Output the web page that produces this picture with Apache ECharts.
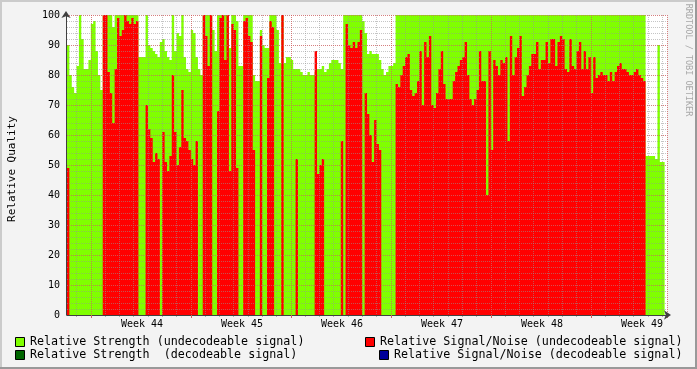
<!DOCTYPE html>
<html><head><meta charset="utf-8">
<script src="https://cdn.jsdelivr.net/npm/echarts@6/dist/echarts.min.js"></script>
<style>html,body{margin:0;padding:0;background:#f3f3f3}#c{width:697px;height:369px}</style>
</head><body><div id="c"></div><script>
// Buckets of 4 hours each (6 per day, 42 per week); first week boundary (Week 44 start) at bucket 10
const weekLabels = ['Week 44','Week 45','Week 46','Week 47','Week 48','Week 49'];
const yTitle = 'Relative Quality';
const watermark = 'RRDTOOL / TOBI OETIKER';
const legendNames = [
  'Relative Strength (undecodeable signal)',
  'Relative Strength  (decodeable signal)',
  'Relative Signal/Noise (undecodeable signal)',
  'Relative Signal/Noise (decodeable signal)'
];
const legendColors = ['#80ff00','#006600','#ff0000','#000099'];

// Relative Strength (undecodeable signal)
const strength = [
  90,80,76,74,83,100,92,82,82,85,
  97,98,88,80,75,100,100,100,100,96,
  100,100,100,100,100,100,100,100,100,100,
  86,86,86,100,90,89,88,87,86,91,
  92,88,86,85,100,88,94,93,100,86,
  82,81,95,94,86,82,80,100,100,100,
  100,95,88,100,100,100,100,100,89,100,
  100,98,83,83,100,100,100,100,80,78,
  78,95,90,89,89,100,100,100,95,84,
  100,84,86,86,85,82,82,82,81,80,
  80,81,80,80,81,82,82,83,81,82,
  84,85,85,85,84,82,100,100,100,100,
  100,100,100,100,98,94,87,88,87,87,
  87,85,82,80,81,83,83,84,100,100,
  100,100,100,100,100,100,100,100,100,100,
  100,100,100,100,100,100,100,100,100,100,
  100,100,100,100,100,100,100,100,100,100,
  100,100,100,100,100,100,100,100,100,100,
  100,100,100,100,100,100,100,100,100,100,
  100,100,100,100,100,100,100,100,100,100,
  100,100,100,100,100,100,100,100,100,100,
  100,100,100,100,100,100,100,100,100,100,
  100,100,100,100,100,100,100,100,100,100,
  100,100,100,100,100,100,100,100,100,100,
  100,100,100,53,53,53,53,52,90,51,
  51,null
];
// Relative Signal/Noise (undecodeable signal)
const snr = [
  49,0,0,0,0,0,0,0,0,0,
  0,0,0,0,0,100,100,81,74,64,
  82,99,93,95,100,98,97,99,97,98,
  0,0,0,70,62,59,51,54,52,0,
  61,51,48,53,80,61,50,56,75,59,
  58,55,52,50,58,0,0,100,93,83,
  100,0,0,68,99,100,85,100,48,97,
  95,49,0,0,98,99,93,91,55,0,
  0,93,0,0,79,98,96,0,0,0,
  100,0,0,0,0,0,52,0,0,0,
  0,0,0,0,88,47,50,52,0,0,
  0,0,0,0,0,58,0,97,90,89,
  91,89,91,95,0,74,67,60,51,65,
  57,55,0,0,0,0,0,0,77,76,
  80,83,86,87,75,73,74,78,88,70,
  91,86,93,70,69,74,82,88,77,72,
  72,72,78,81,83,85,86,91,80,72,
  70,72,75,88,78,78,40,88,55,85,
  83,80,85,84,86,58,93,80,86,89,
  93,73,76,80,83,87,87,91,82,85,
  85,91,84,92,92,83,91,93,92,82,
  81,92,83,82,88,91,82,88,82,86,
  74,86,79,80,81,80,80,78,81,78,
  81,83,84,82,82,81,80,80,81,82,
  80,79,78,0,0,0,0,0,0,0,
  0,0
];

const N = strength.length;
const BPD = 6, BPW = 42, FIRST_WEEK = 10;
function stepPoints(arr){
  const pts = []; let last = -1;
  arr.forEach((v,i)=>{ if(v!==null){ pts.push([i,v]); last=i; } });
  pts.push([last+1, arr[last]]);
  return pts;
}
const cats = Array.from({length:N},(_,i)=>String(i));
const isDay = i => i % BPD === FIRST_WEEK % BPD;
const isWeek = i => i >= FIRST_WEEK && (i - FIRST_WEEK) % BPW === 0;
const isLabel = i => i >= FIRST_WEEK + BPW/2 && (i - FIRST_WEEK - BPW/2) % BPW === 0;

const FONT = 'DejaVu Sans Mono';
const minorColor = 'rgba(150,150,150,0.55)';
const majorColor = 'rgba(224,80,80,0.6)';

const chart = echarts.init(document.getElementById('c'), null, {renderer:'canvas'});
const graphics = [
  {type:'rect', shape:{x:0,y:0,width:697,height:2}, style:{fill:'#cbcbcb'}, silent:true},
  {type:'rect', shape:{x:0,y:0,width:2,height:369}, style:{fill:'#cbcbcb'}, silent:true},
  {type:'rect', shape:{x:0,y:367,width:697,height:2}, style:{fill:'#999999'}, silent:true},
  {type:'rect', shape:{x:695,y:0,width:2,height:369}, style:{fill:'#999999'}, silent:true},
  {type:'text', x:12, y:169, rotation:Math.PI/2, style:{text:yTitle, font:'11px "'+FONT+'"', fill:'#000', align:'center', verticalAlign:'middle'}},
  {type:'text', x:688, y:60, rotation:-Math.PI/2, style:{text:watermark, font:'8.5px "'+FONT+'"', fill:'#a8a8a8', align:'center', verticalAlign:'middle'}}
];
const legendPos = [[15,337,30],[15,350,30],[365,337,380],[379,350,394]];
legendNames.forEach((n,k)=>{
  const p = legendPos[k];
  graphics.push({type:'rect', shape:{x:p[0]+0.5,y:p[1]+0.5,width:9,height:9}, style:{fill:legendColors[k], stroke:'#000', lineWidth:1}});
  graphics.push({type:'text', x:p[2], y:p[1]+5, style:{text:n, font:'11.7px "'+FONT+'"', fill:'#000', align:'left', verticalAlign:'middle'}});
});

chart.setOption({
  animation:false,
  backgroundColor:'#f3f3f3',
  grid:{left:67, top:15, width:600, height:300, show:true, backgroundColor:'#ffffff', borderWidth:0},
  xAxis:[
    {type:'value', min:0, max:N, show:false, position:'bottom'},
    {type:'category', data:cats, boundaryGap:true, position:'bottom', z:5,
      axisLine:{show:false}, axisLabel:{show:false},
      axisTick:{show:true, interval:(i)=>isDay(i), length:2, lineStyle:{color:'#b0b0b0'}},
      splitLine:{show:true, interval:(i)=>isDay(i), lineStyle:{color:minorColor, type:[1,1], width:1}}},
    {type:'category', data:cats, boundaryGap:true, position:'bottom', z:6,
      axisLine:{show:true, lineStyle:{color:'#404040', width:1}, symbol:['none','arrow'], symbolSize:[7,7], symbolOffset:[0,4]},
      axisTick:{show:true, interval:(i)=>isWeek(i), length:3, lineStyle:{color:'#d06060'}},
      axisLabel:{show:true, interval:(i)=>isLabel(i), formatter:(v)=>weekLabels[(Number(v)-FIRST_WEEK-BPW/2)/BPW], fontFamily:FONT, fontSize:10, color:'#000', margin:4},
      splitLine:{show:true, interval:(i)=>isWeek(i), lineStyle:{color:majorColor, type:[1,1], width:1}}}
  ],
  yAxis:[
    {type:'value', min:0, max:100, interval:2, position:'left', z:5,
      axisLine:{show:false}, axisTick:{show:false}, axisLabel:{show:false},
      splitLine:{show:true, lineStyle:{color:minorColor, type:[1,1], width:1}}},
    {type:'value', min:0, max:100, interval:10, position:'left', offset:1, z:6,
      axisLine:{show:true, onZero:false, lineStyle:{color:'#404040', width:1}, symbol:['none','arrow'], symbolSize:[7,7], symbolOffset:[0,4]},
      axisTick:{show:false},
      axisLabel:{fontFamily:FONT, fontSize:10, color:'#000', margin:6},
      splitLine:{show:true, lineStyle:{color:majorColor, type:[1,1], width:1}}}
  ],
  series:[
    {name:legendNames[0], type:'line', xAxisIndex:0, yAxisIndex:0, step:'end', symbol:'none', data:stepPoints(strength),
      lineStyle:{width:0, opacity:0}, areaStyle:{color:legendColors[0], opacity:1}, silent:true, z:1},
    {name:legendNames[2], type:'line', xAxisIndex:0, yAxisIndex:0, step:'end', symbol:'none', data:stepPoints(snr),
      lineStyle:{width:0, opacity:0}, areaStyle:{color:legendColors[2], opacity:1}, silent:true, z:1}
  ],
  graphic:graphics
});
</script></body></html>
